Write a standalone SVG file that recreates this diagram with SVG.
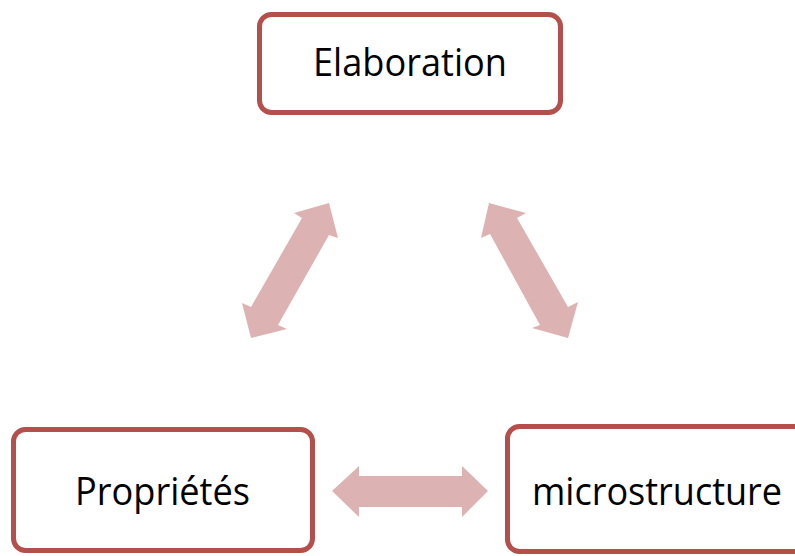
<svg xmlns="http://www.w3.org/2000/svg" width="795" height="556" viewBox="0 0 795 556">
<style>
.box{fill:#fff;stroke:#b44f4c;stroke-width:5}
.lbl{font-family:"Open Sans","Noto Sans","Liberation Sans",sans-serif;font-size:38px;fill:#000}
.arr{fill:#ddb2b2}
</style>
<rect width="795" height="556" fill="#fff"/>
<g id="connectors">
<polygon class="arr" points="329,203 338,238 329,235 278,325 287,329 251,338 242,303 251,307 302,218 294,213"/>
<polygon class="arr" points="489,203 526,213 517,218 568,307 578,302 568,338 532,328 540,325 490,234 481,238"/>
<polygon class="arr" points="332,491 359,466 359,476 462,476 462,466 488,491 462,517 462,507 359,507 359,517"/>
</g>
<g id="node-elaboration">
<rect class="box" x="259.5" y="14.5" width="301" height="98" rx="12"/>
<text class="lbl" x="313" y="76" textLength="194" lengthAdjust="spacingAndGlyphs">Elaboration</text>
</g>
<g id="node-proprietes">
<rect class="box" x="13.5" y="429.5" width="299" height="121" rx="12"/>
<text class="lbl" x="75" y="505" textLength="175" lengthAdjust="spacingAndGlyphs">Propriétés</text>
</g>
<g id="node-microstructure">
<rect class="box" x="507.5" y="426.5" width="310" height="125" rx="12"/>
<text class="lbl" x="532" y="505" textLength="250" lengthAdjust="spacingAndGlyphs">microstructure</text>
</g>
</svg>
